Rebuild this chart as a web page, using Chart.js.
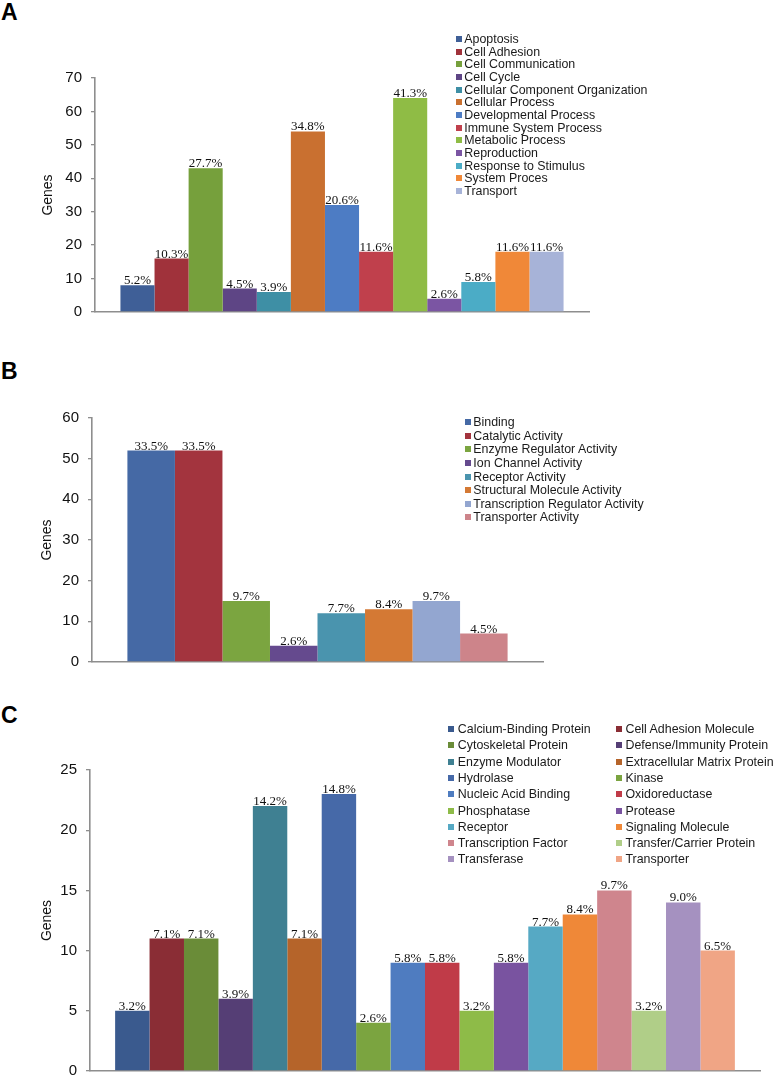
<!DOCTYPE html>
<html lang="en">
<head>
    <meta charset="UTF-8">
    <title>Genes by category</title>
    <script src="https://cdn.jsdelivr.net/npm/chart.js"></script>
    <style>
        body { margin: 0; background: #fff; }
        #page { position: relative; width: 782px; height: 1089px; overflow: hidden; background: #fff; }
        canvas { position: absolute; left: 0; }
        .panel { position: absolute; left: 1px; font: bold 23px "Liberation Sans", Arial, sans-serif; line-height: 23px; color: #000; }
        .legend { position: absolute; font-family: "Liberation Sans", Arial, sans-serif; font-size: 12.4px; color: #1a1a1a; }
        .legend .row { display: flex; align-items: center; white-space: nowrap; }
        .legend .sq { display: inline-block; width: 6px; height: 6px; flex: none; }
        #legC { display: grid; grid-template-columns: 167.7px auto; }
    </style>
</head>
<body>
<div id="page">
    <div class="panel" style="top:1px">A</div>
    <div class="panel" style="top:360px">B</div>
    <div class="panel" style="top:704px">C</div>
    <canvas id="chartA" width="782" height="330" style="top:0px"></canvas>
    <canvas id="chartB" width="782" height="350" style="top:330px"></canvas>
    <canvas id="chartC" width="782" height="409" style="top:680px"></canvas>
    <div id="legA" class="legend" style="left:456px; top:32.7px"></div>
    <div id="legB" class="legend" style="left:465px; top:415.5px"></div>
    <div id="legC" class="legend" style="left:448.3px; top:720.9px"></div>
</div>

<script>
    // A: biological process
    const aLabels = ['Apoptosis', 'Cell Adhesion', 'Cell Communication', 'Cell Cycle',
        'Cellular Component Organization', 'Cellular Process', 'Developmental Process',
        'Immune System Process', 'Metabolic Process', 'Reproduction', 'Response to Stimulus',
        'System Proces', 'Transport'];
    const aGenes = [8, 16, 43, 7, 6, 54, 32, 18, 64, 4, 9, 18, 18];
    const aPct = ['5.2%', '10.3%', '27.7%', '4.5%', '3.9%', '34.8%', '20.6%', '11.6%', '41.3%', '2.6%', '5.8%', '11.6%', '11.6%'];
    const aTicks = [0, 10, 20, 30, 40, 50, 60, 70];
    const aColors = ['#3f5f97', '#a0323b', '#76a03c', '#5e4585', '#3e8fa5', '#c97030', '#4d7cc4',
        '#c0404c', '#8fbc45', '#7b55a3', '#4bacc6', '#f08838', '#a7b3d8'];

    // B: molecular function
    const bLabels = ['Binding', 'Catalytic Activity', 'Enzyme Regulator Activity', 'Ion Channel Activity',
        'Receptor Activity', 'Structural Molecule Activity', 'Transcription Regulator Activity',
        'Transporter Activity'];
    const bGenes = [52, 52, 15, 4, 12, 13, 15, 7];
    const bPct = ['33.5%', '33.5%', '9.7%', '2.6%', '7.7%', '8.4%', '9.7%', '4.5%'];
    const bTicks = [0, 10, 20, 30, 40, 50, 60];
    const bColors = ['#4569a5', '#a3343e', '#7ba540', '#654a8e', '#4a94ae', '#d47934', '#93a6d0', '#cd848a'];

    // C: protein class
    const cLabels = ['Calcium-Binding Protein', 'Cell Adhesion Molecule', 'Cytoskeletal Protein',
        'Defense/Immunity Protein', 'Enzyme Modulator', 'Extracellular Matrix Protein', 'Hydrolase',
        'Kinase', 'Nucleic Acid Binding', 'Oxidoreductase', 'Phosphatase', 'Protease', 'Receptor',
        'Signaling Molecule', 'Transcription Factor', 'Transfer/Carrier Protein', 'Transferase',
        'Transporter'];
    const cGenes = [5, 11, 11, 6, 22, 11, 23, 4, 9, 9, 5, 9, 12, 13, 15, 5, 14, 10];
    const cPct = ['3.2%', '7.1%', '7.1%', '3.9%', '14.2%', '7.1%', '14.8%', '2.6%', '5.8%', '5.8%',
        '3.2%', '5.8%', '7.7%', '8.4%', '9.7%', '3.2%', '9.0%', '6.5%'];
    const cTicks = [0, 5, 10, 15, 20, 25];
    const cColors = ['#3a5a8e', '#8a2d35', '#6a8c38', '#553e75', '#3f8092', '#b5642a', '#4669a8',
        '#7ba440', '#4f7cc0', '#c03b48', '#8ebb48', '#7953a0', '#56a9c4', '#ef8838', '#cf858d',
        '#b0ce88', '#a591c0', '#f0a585'];

    const axisGray = '#8e8e8e';

    // percent labels above each bar
    const pctPlugin = {
        id: 'pctLabels',
        afterDatasetsDraw(chart) {
            const ctx = chart.ctx;
            ctx.save();
            ctx.font = '13px "Liberation Serif", "Times New Roman", serif';
            ctx.fillStyle = '#111';
            ctx.textAlign = 'center';
            ctx.textBaseline = 'alphabetic';
            chart.data.datasets.forEach((ds, i) => {
                const bar = chart.getDatasetMeta(i).data[0];
                ctx.fillText(ds.pct, bar.x, bar.y - 1);
            });
            ctx.restore();
        }
    };

    function makePanel(id, labels, genes, pct, colors, ticks, box) {
        const datasets = labels.map((name, i) => ({
            label: name,
            data: [genes[i]],
            pct: pct[i],
            backgroundColor: colors[i],
            borderWidth: 0,
            barPercentage: 1.0,
            categoryPercentage: box.catPct
        }));
        return new Chart(document.getElementById(id), {
            type: 'bar',
            data: { labels: [''], datasets: datasets },
            plugins: [pctPlugin],
            options: {
                responsive: false,
                animation: false,
                layout: { padding: { left: 0, top: box.top, right: box.right, bottom: box.bottom } },
                plugins: { legend: { display: false }, tooltip: { enabled: false } },
                scales: {
                    x: {
                        grid: { display: false, drawTicks: false },
                        ticks: { display: false },
                        border: { display: true, color: axisGray, width: 1.6 },
                        afterFit: (scale) => { scale.height = 0; }
                    },
                    y: {
                        min: ticks[0],
                        max: ticks[ticks.length - 1],
                        afterBuildTicks: (scale) => { scale.ticks = ticks.map(v => ({ value: v })); },
                        grid: { drawOnChartArea: false, drawTicks: true, tickLength: 4, color: axisGray, lineWidth: 1.3 },
                        border: { display: true, color: axisGray, width: 1.6 },
                        ticks: {
                            padding: 9,
                            color: '#111',
                            font: { family: '"Liberation Sans", Arial, sans-serif', size: 15 }
                        },
                        title: {
                            display: true,
                            text: 'Genes',
                            color: '#111',
                            font: { family: '"Liberation Sans", Arial, sans-serif', size: 14 },
                            padding: { top: box.titleTop, bottom: 0 }
                        },
                        afterFit: (scale) => { scale.width = box.left; }
                    }
                }
            }
        });
    }

    function makeLegend(id, labels, colors, rowH, gap) {
        const el = document.getElementById(id);
        labels.forEach((name, i) => {
            const row = document.createElement('div');
            row.className = 'row';
            row.style.height = rowH + 'px';
            row.innerHTML = '<span class="sq" style="background:' + colors[i] + ';margin-right:' + gap + 'px"></span>' + name;
            el.appendChild(row);
        });
    }

    makePanel('chartA', aLabels, aGenes, aPct, aColors, aTicks,
        { left: 95, top: 78, right: 193, bottom: 13, catPct: 0.897, titleTop: 40 });
    makePanel('chartB', bLabels, bGenes, bPct, bColors, bTicks,
        { left: 92, top: 88, right: 239, bottom: 12, catPct: 0.843, titleTop: 39 });
    makePanel('chartC', cLabels, cGenes, cPct, cColors, cTicks,
        { left: 90, top: 90, right: 22, bottom: 17, catPct: 0.925, titleTop: 39 });

    makeLegend('legA', aLabels, aColors, 12.67, 2.3);
    makeLegend('legB', bLabels, bColors, 13.6, 2.3);
    makeLegend('legC', cLabels, cColors, 16.3, 3.5);
</script>
</body>
</html>
